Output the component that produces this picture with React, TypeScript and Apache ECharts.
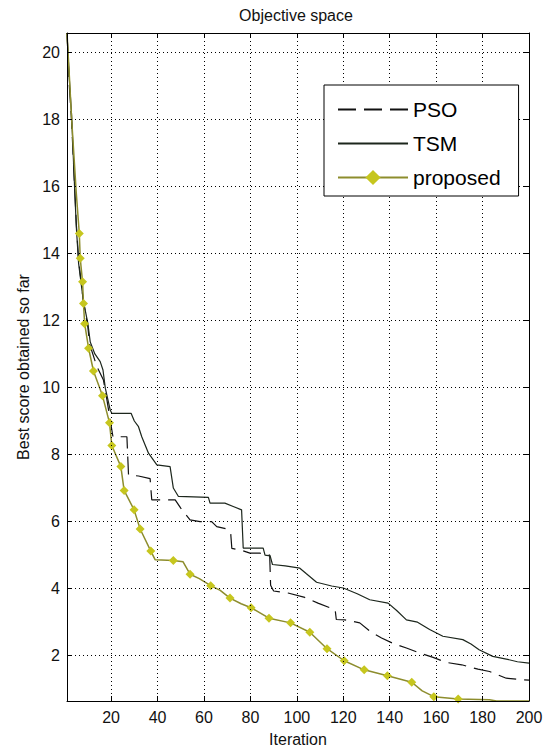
import React, { useEffect, useRef } from "react";
import * as echarts from "echarts";

const FONT = "'Liberation Sans', Arial, Helvetica, sans-serif";

const seriesNames = ["PSO", "TSM", "proposed"];
const xRange = [1, 200];
const yRange = [0.65, 20.57];

// [iteration, best score]
const psoData: number[][] = [
  [1, 20.57], [2, 19.0], [3, 17.9], [4, 16.4], [5, 14.9], [6, 13.8], [8, 12.6], [10, 11.8],
  [10.7, 11.3], [13.9, 10.62], [16.7, 10.22], [18.2, 9.63], [19.6, 9.03], [20.8, 8.53],
  [26.8, 8.53], [27.5, 7.39], [31.8, 7.36], [36.8, 7.28], [37.5, 6.65], [47.6, 6.65],
  [50, 6.4], [54, 6.05], [58.3, 6.0], [63.3, 6.0], [65.5, 5.85], [69.8, 5.78], [71.5, 5.66],
  [72, 5.2], [76, 5.15], [79.8, 5.06], [84, 5.06], [88.3, 5.0], [88.7, 4.1], [90, 3.93],
  [96.2, 3.87], [103, 3.75], [109.1, 3.57], [116.5, 3.37], [117, 3.08], [120.7, 3.07],
  [127.1, 2.98], [132, 2.7], [136.5, 2.53], [142, 2.35], [147.2, 2.23], [152.9, 2.08],
  [158.7, 1.95], [164.4, 1.8], [171, 1.73], [178, 1.6], [183, 1.53], [190.2, 1.33], [200, 1.27],
];

const tsmData: number[][] = [
  [1, 20.57], [2, 19.2], [3, 18.1], [4, 16.4], [5, 14.8], [6, 13.7], [8, 12.6], [10, 11.9],
  [11, 11.36], [13, 11.0], [15.3, 10.77], [16.5, 10.52], [17.5, 9.98], [19.6, 9.33],
  [20.3, 9.23], [28.6, 9.23], [30, 9.0], [31.8, 8.83], [33.2, 8.53], [36.1, 8.04],
  [39.7, 7.69], [45.4, 7.64], [46.8, 7.0], [49, 6.75], [61.9, 6.72], [62.6, 6.55],
  [69, 6.55], [72.6, 6.45], [76.2, 6.35], [76.9, 5.21], [85.5, 5.21], [86.3, 5.0],
  [88.5, 4.98], [89.5, 4.72], [95, 4.68], [101.3, 4.61], [104, 4.45], [108.5, 4.19],
  [115, 4.08], [120, 4.02], [126, 3.85], [131.4, 3.67], [139.3, 3.57], [143, 3.35],
  [147.2, 3.07], [152, 3.0], [157.2, 2.78], [162.9, 2.58], [171.5, 2.48], [175, 2.35],
  [178.5, 2.18], [184.4, 1.98], [190.2, 1.9], [195, 1.82], [200, 1.78],
];

// [iteration, best score, marker(1)/no marker(0)]
const proposedData: number[][] = [
  [1, 20.57, 0], [2, 19.3, 0], [3, 18.0, 0], [4, 16.9, 0], [5, 15.8, 0],
  [6.3, 14.59, 1], [6.7, 13.85, 1], [7.7, 13.15, 1], [8.1, 12.5, 1], [8.6, 11.9, 1],
  [10.3, 11.17, 1], [12.4, 10.49, 1], [16.3, 9.75, 1], [19.3, 8.95, 1], [20.3, 8.27, 1],
  [24.2, 7.64, 1], [25.6, 6.93, 1], [29.9, 6.35, 1], [32.5, 5.78, 1], [37.1, 5.12, 1],
  [39, 4.86, 0], [46.8, 4.84, 1], [51, 4.8, 0], [54, 4.43, 1], [58, 4.3, 0],
  [62.9, 4.09, 1], [67, 3.95, 0], [71.2, 3.72, 1], [76, 3.55, 0], [80.3, 3.43, 1],
  [88, 3.12, 1], [97.3, 2.98, 1], [105.6, 2.7, 1], [113, 2.21, 1], [120.4, 1.85, 1],
  [129, 1.58, 1], [139, 1.4, 1], [149.5, 1.21, 1], [154, 0.95, 0], [159, 0.78, 1],
  [169.5, 0.71, 1], [183, 0.69, 0], [186, 0.65, 0], [200, 0.65, 0],
];

export default function App() {
  const ref = useRef<HTMLDivElement>(null);

  useEffect(() => {
    if (!ref.current) return;
    const chart = echarts.init(ref.current, null, { renderer: "svg" });

    const axisLine = { show: true, lineStyle: { color: "#000", width: 1 } };
    const tick = { show: true, inside: true, length: 5, lineStyle: { color: "#000", width: 1 } };
    const grid = { show: true, lineStyle: { color: "#000", width: 1, type: [1, 3] as any } };
    const labelStyle = { color: "#111", fontSize: 16, fontFamily: FONT };

    chart.setOption({
      animation: false,
      backgroundColor: "#fff",
      grid: { left: 67, top: 33, right: 20, bottom: 48, containLabel: false, outerBoundsMode: "none" },
      graphic: [
        {
          type: "text",
          x: 296,
          y: 15,
          style: {
            text: "Objective space",
            fontSize: 16,
            fontFamily: FONT,
            fill: "#111",
            align: "center",
            verticalAlign: "middle",
          },
        },
      ],
      legend: {
        orient: "vertical",
        left: 324,
        top: 85,
        itemWidth: 70,
        itemHeight: 19,
        itemGap: 13,
        padding: [14, 18, 8, 13],
        backgroundColor: "#fff",
        borderColor: "#000",
        borderWidth: 1,
        borderRadius: 0,
        selectedMode: false,
        textStyle: { fontSize: 21, color: "#000", fontFamily: FONT },
        data: [
          { name: seriesNames[0], itemStyle: { opacity: 0 } },
          { name: seriesNames[1], itemStyle: { opacity: 0 } },
          { name: seriesNames[2] },
        ],
      },
      xAxis: [
        {
          type: "value",
          min: xRange[0],
          max: xRange[1],
          splitNumber: 10,
          position: "bottom",
          z: 3,
          axisLine,
          axisTick: tick,
          splitLine: grid,
          axisLabel: { ...labelStyle, margin: 8, showMinLabel: false },
          name: "Iteration",
          nameLocation: "middle",
          nameGap: 30,
          nameTextStyle: { ...labelStyle },
        },
        {
          type: "value",
          min: xRange[0],
          max: xRange[1],
          splitNumber: 10,
          position: "top",
          z: 3,
          axisLine,
          axisTick: tick,
          splitLine: { show: false },
          axisLabel: { show: false },
        },
      ],
      yAxis: [
        {
          type: "value",
          min: yRange[0],
          max: yRange[1],
          splitNumber: 10,
          position: "left",
          z: 3,
          axisLine,
          axisTick: tick,
          splitLine: grid,
          axisLabel: { ...labelStyle, margin: 7, showMinLabel: false, showMaxLabel: false },
          name: "Best score obtained so far",
          nameLocation: "middle",
          nameGap: 30,
          nameTextStyle: { ...labelStyle },
        },
        {
          type: "value",
          min: yRange[0],
          max: yRange[1],
          splitNumber: 10,
          position: "right",
          z: 3,
          axisLine,
          axisTick: tick,
          splitLine: { show: false },
          axisLabel: { show: false },
        },
      ],
      series: [
        {
          name: seriesNames[0],
          type: "line",
          data: psoData,
          symbol: "none",
          lineStyle: { color: "#111", width: 1.2, type: [18, 8] },
          itemStyle: { color: "#111" },
          z: 2,
        },
        {
          name: seriesNames[1],
          type: "line",
          data: tsmData,
          symbol: "none",
          lineStyle: { color: "#1c261c", width: 1.2 },
          itemStyle: { color: "#1c261c" },
          z: 2,
        },
        {
          name: seriesNames[2],
          type: "line",
          data: proposedData.map((d) => ({
            value: [d[0], d[1]],
            symbol: d[2] ? "diamond" : "none",
          })),
          symbol: "diamond",
          symbolSize: 9,
          showAllSymbol: true,
          lineStyle: { color: "#8d8d2d", width: 1.5 },
          itemStyle: { color: "#c6c61e" },
          z: 2,
        },
      ],
    });

    return () => chart.dispose();
  }, []);

  return (
    <div
      ref={ref}
      style={{ position: "fixed", left: 0, top: 0, width: 549, height: 749, background: "#fff" }}
    />
  );
}
